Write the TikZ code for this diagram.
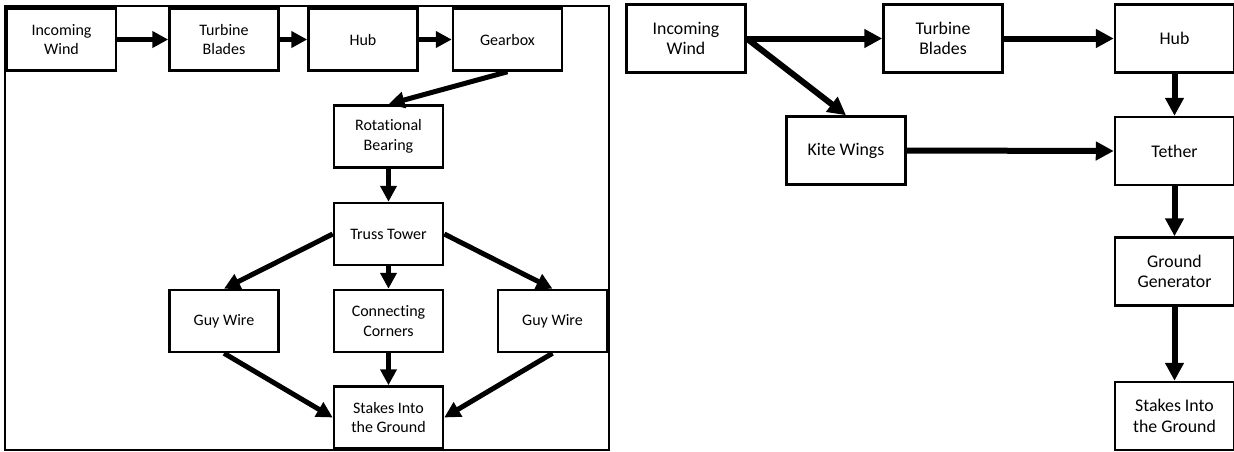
\documentclass[tikz,border=0pt]{standalone}
\usepackage{fontspec}
\setmainfont{Carlito}[Ligatures=NoCommon]
\usetikzlibrary{arrows.meta}
\begin{document}
\begin{tikzpicture}[x=1pt,y=-1pt,
  lbox/.style={draw=black,line width=2.5pt,fill=white,minimum width=109pt,minimum height=62pt,
    inner sep=0pt,align=center,font=\fontsize{16}{19.5}\selectfont},
  rbox/.style={draw=black,line width=2.5pt,fill=white,minimum width=119pt,minimum height=68pt,
    inner sep=0pt,align=center,font=\fontsize{17.8}{20.7}\selectfont},
  larrow/.style={line width=5pt,-{Triangle[length=16pt,width=16pt]}},
  rarrow/.style={line width=6pt,-{Triangle[length=18pt,width=18pt]}}]
% canvas
\fill[white] (0,0) rectangle (1234,451);
\useasboundingbox (0,0) rectangle (1234,451);
% conventional tower: frame
\draw[line width=2pt] (5,6) rectangle (609,450);
% conventional tower: components
\node[lbox] (iw)   at (61.5,39.5)  {Incoming\\Wind};
\node[lbox] (tb)   at (224,39.5)   {Turbine\\Blades};
\node[lbox] (hub)  at (363,39.5)   {Hub};
\node[lbox] (gear) at (507.5,39.5) {Gearbox};
\node[lbox] (bear) at (388.5,136.5) {Rotational\\Bearing};
\node[lbox] (truss) at (388.5,234) {Truss Tower};
\node[lbox] (guyl) at (224,321)    {Guy Wire};
\node[lbox] (conn) at (388.5,321)  {Connecting\\Corners};
\node[lbox] (guyr) at (552.5,321)  {Guy Wire};
\node[lbox] (stk)  at (388.5,417.5) {Stakes Into\\the Ground};
\draw[larrow] (iw.east) -- (tb.west);
\draw[larrow] (tb.east) -- (hub.west);
\draw[larrow] (hub.east) -- (gear.west);
\draw[larrow] (gear.south) -- (bear.north);
\draw[larrow] (bear.south) -- (truss.north);
\draw[larrow] (truss.west) -- (guyl.north);
\draw[larrow] (truss.east) -- (guyr.north);
\draw[larrow] (truss.south) -- (conn.north);
\draw[larrow] (guyl.south) -- (stk.west);
\draw[larrow] (conn.south) -- (stk.north);
\draw[larrow] (guyr.south) -- (stk.east);
% kite system: components
\node[rbox] (kiw)  at (686,38.5)    {Incoming\\Wind};
\node[rbox] (ktb)  at (943,38.5)    {Turbine\\Blades};
\node[rbox] (khub) at (1174.5,38.5) {Hub};
\node[rbox] (kite) at (846,150.5)   {Kite Wings};
\node[rbox] (teth) at (1174.5,151)  {Tether};
\node[rbox] (gen)  at (1174.5,271.5) {Ground\\Generator};
\node[rbox] (kstk) at (1174.5,416)  {Stakes Into\\the Ground};
\draw[rarrow] (kiw.east) -- (ktb.west);
\draw[rarrow] (kiw.east) -- (kite.north);
\draw[rarrow] (ktb.east) -- (khub.west);
\draw[rarrow] (khub.south) -- (teth.north);
\draw[rarrow] (kite.east) -- (teth.west);
\draw[rarrow] (teth.south) -- (gen.north);
\draw[rarrow] (gen.south) -- (kstk.north);
\end{tikzpicture}
\end{document}
